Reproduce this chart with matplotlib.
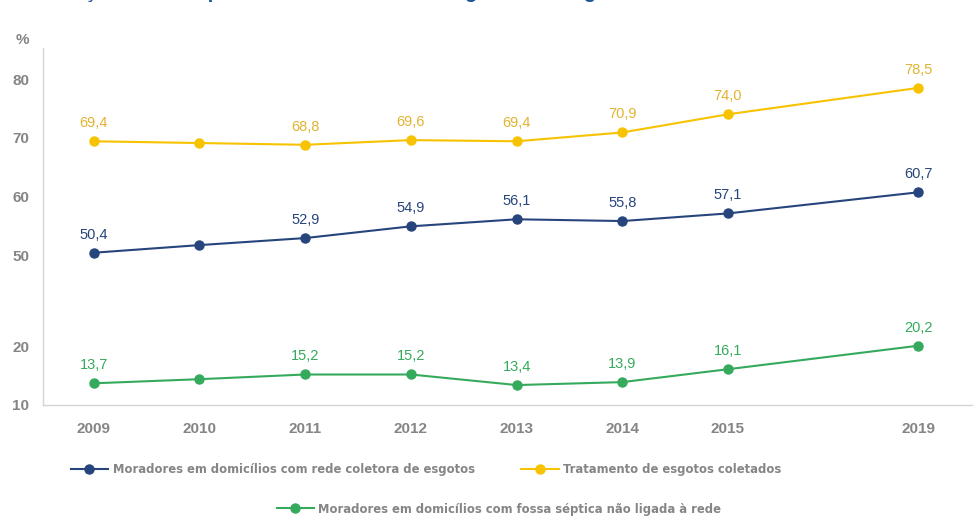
import numpy as np
import matplotlib
matplotlib.use("Agg")
import matplotlib.pyplot as plt
from matplotlib.lines import Line2D
from matplotlib.font_manager import FontProperties

years = [2009, 2010, 2011, 2012, 2013, 2014, 2015, 2019]
rede = [50.4, 51.7, 52.9, 54.9, 56.1, 55.8, 57.1, 60.7]
tratamento = [69.4, 69.1, 68.8, 69.6, 69.4, 70.9, 74.0, 78.5]
fossa = [13.7, 14.4, 15.2, 15.2, 13.4, 13.9, 16.1, 20.2]
labeled = [True, False, True, True, True, True, True, True]
ytick_vals = [10, 20, 50, 60, 70, 80]
names = ["Moradores em domicílios com rede coletora de esgotos",
         "Tratamento de esgotos coletados",
         "Moradores em domicílios com fossa séptica não ligada à rede"]
title = "Evolução dos componentes do tratamento segundo os esgotos – 2009-2019"

c_blue = "#27457c"
c_yel = "#f7c300"
c_yel_t = "#e2b330"
c_green = "#36aa5c"
c_gray = "#858585"

# broken y axis (compressed 20..50)
K = 0.5186
def yf(v):
    v = np.asarray(v, float)
    return np.where(v <= 20, v, np.where(v < 50, 20 + (v - 20) * K, v - 30 + 30 * K))
def yi(u):
    u = np.asarray(u, float)
    return np.where(u <= 20, u, np.where(u < 20 + 30 * K, 20 + (u - 20) / K, u + 30 - 30 * K))

# compressed x after 2015
XK = 0.45
def xf(v):
    v = np.asarray(v, float)
    return np.where(v <= 2015, v, 2015 + (v - 2015) * XK)
def xi(u):
    u = np.asarray(u, float)
    return np.where(u <= 2015, u, 2015 + (u - 2015) / XK)

fig = plt.figure(figsize=(9.78, 5.16), dpi=100)
ax = fig.add_axes([43/978, 1-405/516, 929/978, (405-48)/516])
ax.set_yscale("function", functions=(yf, yi))
ax.set_xscale("function", functions=(xf, xi))

series = [(rede, c_blue, c_blue), (tratamento, c_yel, c_yel_t), (fossa, c_green, c_green)]
for vals, c, ct in series:
    ax.plot(years, vals, color=c, lw=1.5, marker="o", ms=6.5, zorder=3)
    for x, v, lab in zip(years, vals, labeled):
        if lab:
            ax.annotate(f"{v:.1f}".replace(".", ","), (x, v), xytext=(0, 8),
                        textcoords="offset points", ha="center", va="bottom",
                        fontsize=10.5, color=ct, family="Liberation Sans")

ax.set_ylim(10, 85.3)
ax.set_xlim(2008.52, 2020.13)
ax.set_yticks(ytick_vals)
ax.set_yticklabels([str(t) for t in ytick_vals])
ax.set_xticks(years)
ax.set_xticklabels([str(y) for y in years])
ax.yaxis.set_minor_locator(matplotlib.ticker.NullLocator())
ax.xaxis.set_minor_locator(matplotlib.ticker.NullLocator())
ax.tick_params(axis="y", length=0, pad=10, labelsize=11, labelcolor=c_gray)
ax.tick_params(axis="x", length=0, pad=12, labelsize=11, labelcolor=c_gray)
for lab in ax.get_xticklabels() + ax.get_yticklabels():
    lab.set_fontweight("bold")
    lab.set_family("Liberation Sans")
for s in ["top", "right"]:
    ax.spines[s].set_visible(False)
for s in ["left", "bottom"]:
    ax.spines[s].set_color("#d5d5d5")
    ax.spines[s].set_linewidth(1)

fig.text(22/978, 1-40/516, "%", ha="center", va="center", fontsize=11,
         color=c_gray, fontweight="bold", family="Liberation Sans")
fig.text(30/978, 1 + 1.5/516, title, ha="left", va="baseline", fontsize=14.5,
         color="#1f5493", fontweight="bold", family="Liberation Sans")

def h(c):
    return Line2D([], [], color=c, lw=1.5, marker="o", ms=6.5)

lfont = FontProperties(family="DejaVu Sans", stretch="condensed", weight="bold", size=9.3)
leg1 = fig.legend([h(c_blue), h(c_yel)], names[:2], loc="center", ncol=2,
                  bbox_to_anchor=(426/978, 1-470/516), frameon=False, prop=lfont,
                  handlelength=2.9, handletextpad=0.35, columnspacing=3.6)
for t in leg1.get_texts():
    t.set_color(c_gray)
leg2 = fig.legend([h(c_green)], names[2:], loc="center", ncol=1,
                  bbox_to_anchor=(499/978, 1-509/516), frameon=False, prop=lfont,
                  handlelength=2.9, handletextpad=0.35)
for t in leg2.get_texts():
    t.set_color(c_gray)

fig.savefig("out.png", dpi=100)
